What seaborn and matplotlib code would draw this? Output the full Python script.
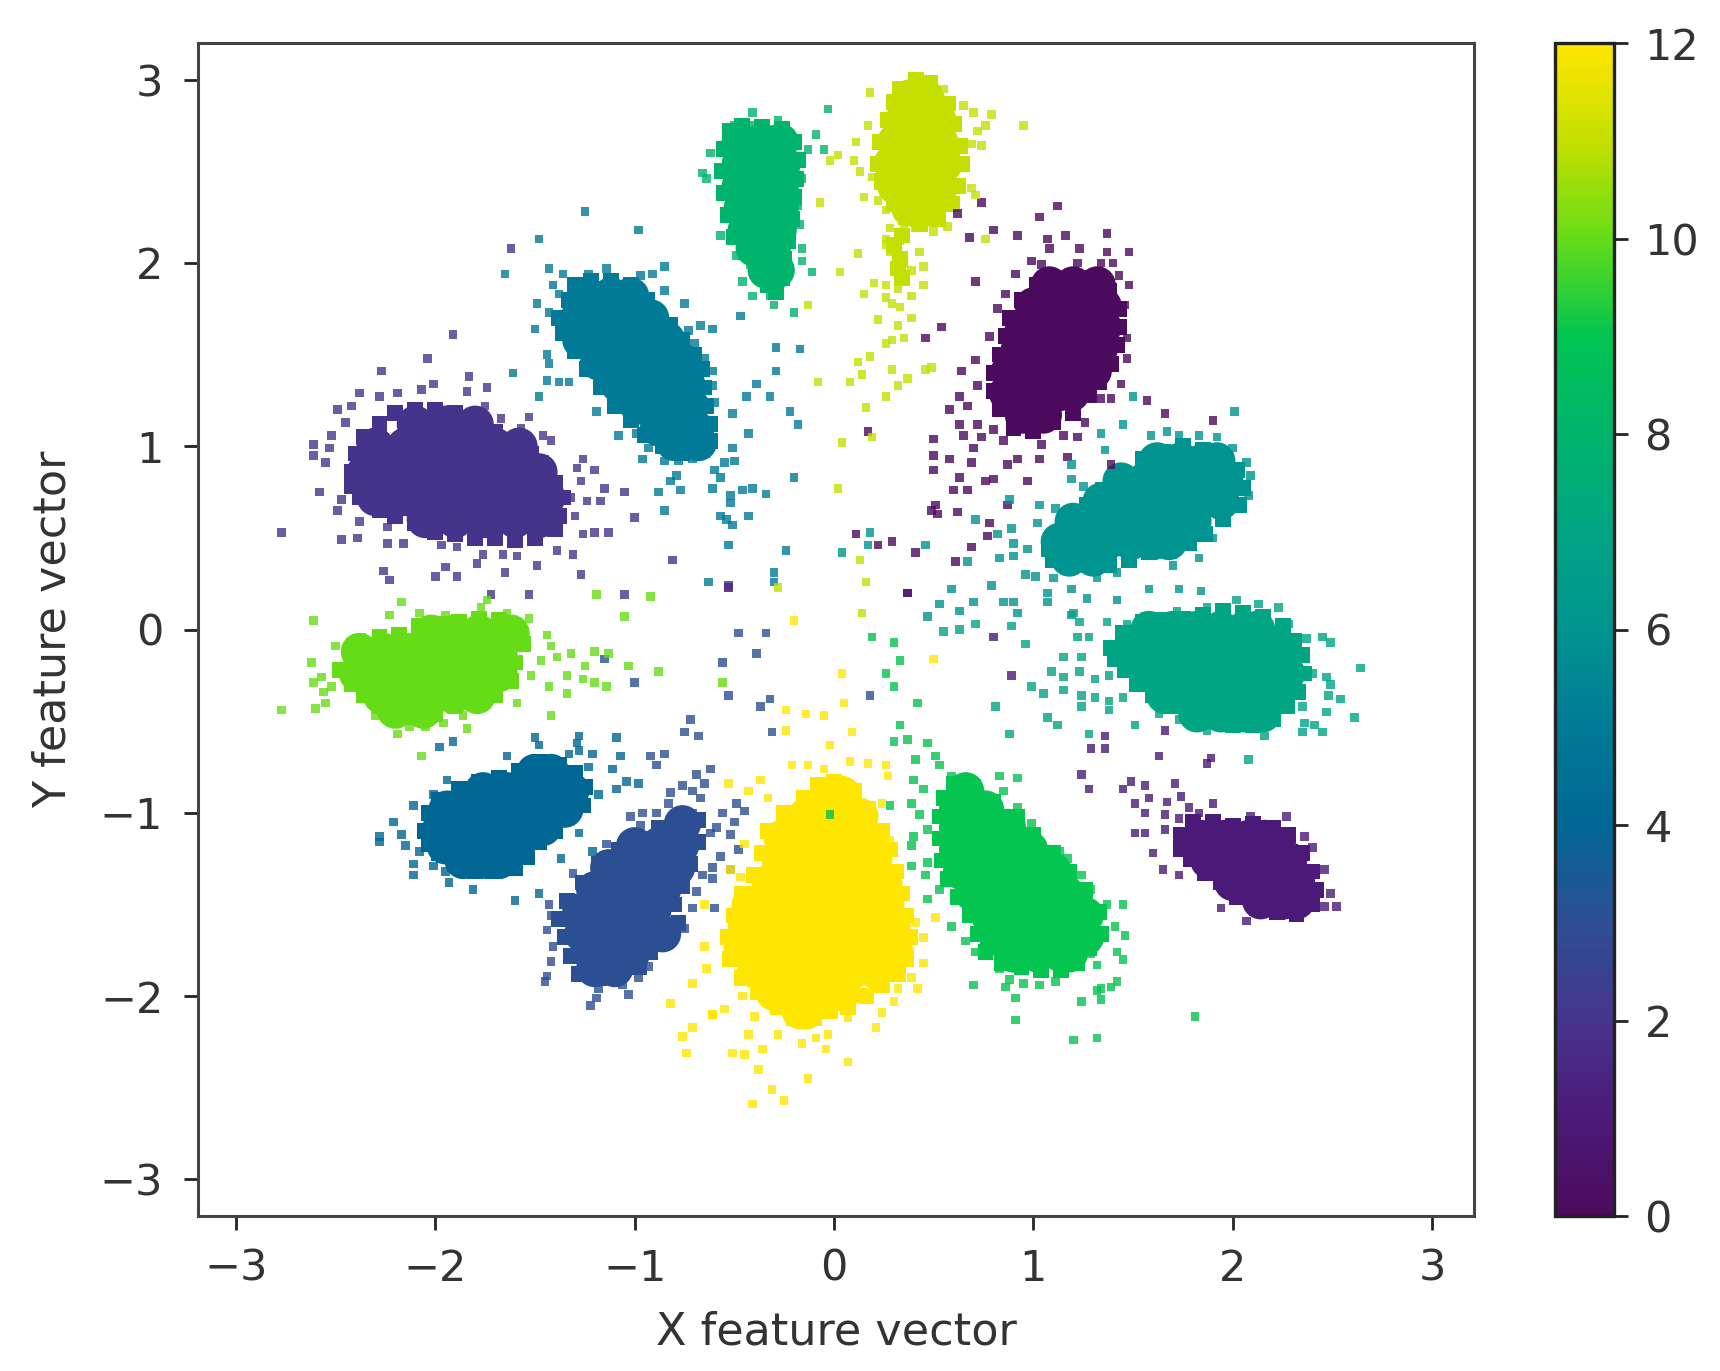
import numpy as np
import pandas as pd
import matplotlib
matplotlib.use("Agg")
import matplotlib.pyplot as plt
from matplotlib.colors import LinearSegmentedColormap, Normalize
import seaborn as sns

# Values. Dense cluster interiors are given as rows {y: [x, ...]},
# cluster rims and separately visible points around them as (x, y) pairs.
COLORS = ["#4c0a5e", "#4b1a78", "#46348c", "#2d4f93", "#006694", "#007a96", "#009490",
          "#00a584", "#00b46c", "#00c452", "#64dc18", "#c4e000", "#ffe600"]
XTICKS = [-3, -2, -1, 0, 1, 2, 3]
YTICKS = [-3, -2, -1, 0, 1, 2, 3]
CTICKS = [0, 2, 4, 6, 8, 10, 12]

CORE_0 = {1.88: [1.08, 1.2, 1.32], 1.765: [1.0, 1.12, 1.24, 1.35], 1.65: [.95, 1.07, 1.19, 1.31, 1.35],
          1.53: [.93, 1.05, 1.17, 1.29, 1.33], 1.41: [.88, 1.0, 1.12, 1.24, 1.30], 1.29: [.87, 1.0, 1.12, 1.19],
          1.17: [.95, 1.05]}
CORE_1 = {-1.14: [1.84, 1.96, 2.08, 2.16], -1.26: [1.88, 2.0, 2.12, 2.24, 2.28], -1.38: [2.0, 2.12, 2.24, 2.32],
          -1.48: [2.14, 2.26, 2.32]}
CORE_2 = {1.12: [-2.1, -1.95, -1.8], 1.0: [-2.3, -2.15, -2.0, -1.85, -1.7, -1.58],
          .86: [-2.35, -2.2, -2.05, -1.9, -1.75, -1.6, -1.48], .72: [-2.3, -2.15, -2.0, -1.85, -1.7, -1.55, -1.44],
          .6: [-2.05, -1.9, -1.75, -1.6, -1.48]}
CORE_3 = {-1.06: [-.76], -1.18: [-1.0, -.88, -.77], -1.30: [-1.13, -1.01, -.89, -.79],
          -1.42: [-1.2, -1.08, -.96, -.86], -1.54: [-1.27, -1.15, -1.03, -.91],
          -1.66: [-1.26, -1.14, -1.02, -.9, -.86], -1.78: [-1.2, -1.08, -1.02], -1.85: [-1.2, -1.1]}
CORE_4 = {-.78: [-1.5, -1.42], -.88: [-1.76, -1.64, -1.52, -1.4, -1.32],
          -.98: [-1.94, -1.82, -1.7, -1.58, -1.46, -1.35], -1.08: [-1.97, -1.85, -1.73, -1.61, -1.49, -1.46],
          -1.18: [-1.95, -1.83, -1.71, -1.61], -1.26: [-1.86, -1.74, -1.68]}
CORE_5 = {1.82: [-1.24, -1.12, -1.02], 1.70: [-1.28, -1.14, -1.0, -.92], 1.58: [-1.27, -1.12, -.98, -.84],
          1.46: [-1.18, -1.04, -.9, -.76], 1.34: [-1.08, -.94, -.8, -.74], 1.22: [-.98, -.84, -.72],
          1.10: [-.88, -.74, -.7], 1.02: [-.8, -.68]}
CORE_6 = {.92: [1.62, 1.74, 1.86, 1.92], .81: [1.44, 1.56, 1.68, 1.80, 1.92, 1.96],
          .70: [1.34, 1.46, 1.58, 1.70, 1.82, 1.94], .59: [1.2, 1.32, 1.44, 1.56, 1.68, 1.80],
          .48: [1.13, 1.25, 1.37, 1.49, 1.60, 1.68], .39: [1.18, 1.3]}
CORE_7 = {0.0: [1.58, 1.70, 1.82, 1.94, 2.06, 2.12], -.12: [1.48, 1.60, 1.72, 1.84, 1.96, 2.08, 2.2, 2.24],
          -.24: [1.57, 1.69, 1.81, 1.93, 2.05, 2.17, 2.27], -.36: [1.66, 1.78, 1.90, 2.02, 2.14, 2.22],
          -.46: [1.82, 1.94, 2.06, 2.15]}
CORE_8 = {2.66: [-.47, -.36, -.27], 2.54: [-.47, -.36, -.26], 2.42: [-.47, -.37, -.27], 2.30: [-.46, -.36, -.27],
          2.18: [-.44, -.34, -.28], 2.08: [-.40, -.31], 1.96: [-.34, -.29]}
CORE_9 = {-.88: [.66], -.98: [.62, .76], -1.08: [.62, .74, .87], -1.2: [.62, .74, .86, .98],
          -1.32: [.64, .76, .88, 1.0, 1.1], -1.44: [.70, .82, .94, 1.06, 1.16], -1.56: [.78, .9, 1.02, 1.14, 1.26],
          -1.68: [.82, .94, 1.06, 1.18, 1.26], -1.77: [.9, 1.02, 1.14, 1.18]}
CORE_10 = {-.02: [-2.02, -1.9, -1.78, -1.66, -1.62], -.12: [-2.38, -2.26, -2.14, -2.02, -1.9, -1.78, -1.68],
           -.24: [-2.39, -2.27, -2.15, -2.03, -1.91, -1.79, -1.68], -.36: [-2.27, -2.15, -2.03, -1.91, -1.79],
           -.44: [-2.2, -2.06]}
CORE_11 = {2.90: [.38, .46], 2.78: [.35, .45, .52], 2.66: [.31, .41, .53], 2.54: [.29, .39, .49, .55],
           2.42: [.31, .42, .53], 2.30: [.38, .47]}
CORE_12 = {-.9: [-.02, .04], -1.02: [-.14, -.02, .1, .13], -1.14: [-.26, -.14, -.02, .1, .17],
           -1.26: [-.27, -.15, -.03, .09, .2], -1.38: [-.32, -.2, -.08, .04, .16, .25],
           -1.5: [-.42, -.3, -.18, -.06, .06, .18, .26], -1.62: [-.44, -.32, -.2, -.08, .04, .16, .29],
           -1.74: [-.46, -.34, -.22, -.1, .02, .14, .26, .3], -1.86: [-.39, -.27, -.15, -.03, .09, .21],
           -1.98: [-.3, -.18, -.06, .04], -2.08: [-.17, -.14]}

RIM_0 = [(1.2,1.93),(1.3,1.92),(1.38,1.85),(1.43,1.75),(1.43,1.65),(1.42,1.55),(1.39,1.45),(1.33,1.35),(1.28,1.28),(1.2,1.18),
         (1.1,1.13),(1.0,1.08),(.9,1.1),(.83,1.2),(.8,1.3),(.8,1.4),(.83,1.5),(.86,1.6),(.88,1.7),(.94,1.8),(1.02,1.88),(1.1,1.92)]
RIM_1 = [(1.74,-1.12),(1.8,-1.05),(1.9,-1.05),(2.0,-1.07),(2.1,-1.06),(2.2,-1.08),(2.28,-1.12),(2.35,-1.22),(2.4,-1.32),
         (2.42,-1.42),(2.4,-1.5),(2.32,-1.55),(2.22,-1.54),(2.12,-1.52),(2.02,-1.46),(1.94,-1.38),(1.86,-1.33),(1.79,-1.25),(1.74,-1.2)]
RIM_2 = [(-2.42,.86),(-2.40,.96),(-2.36,1.05),(-2.28,1.12),(-2.2,1.18),(-2.1,1.2),(-2.0,1.2),(-1.9,1.18),(-1.8,1.13),(-1.7,1.08),
         (-1.6,1.02),(-1.52,.96),(-1.46,.88),(-1.4,.8),(-1.36,.72),(-1.38,.62),(-1.4,.55),(-1.5,.5),(-1.6,.49),(-1.7,.5),(-1.8,.5),
         (-1.9,.52),(-2.0,.53),(-2.1,.58),(-2.2,.62),(-2.28,.65),(-2.38,.72),(-2.42,.78)]
RIM_3 = [(-.68,-1.04),(-.78,-1.04),(-.88,-1.08),(-.98,-1.14),(-1.08,-1.2),(-1.18,-1.28),(-1.26,-1.38),(-1.34,-1.48),(-1.38,-1.58),
         (-1.35,-1.68),(-1.32,-1.78),(-1.28,-1.88),(-1.18,-1.9),(-1.08,-1.88),(-.98,-1.84),(-.92,-1.76),(-.86,-1.68),(-.78,-1.6),
         (-.8,-1.5),(-.76,-1.4),(-.72,-1.28),(-.68,-1.16)]
RIM_4 = [(-2.05,-1.1),(-2.03,-1.0),(-1.98,-.93),(-1.88,-.87),(-1.78,-.83),(-1.68,-.81),(-1.58,-.77),(-1.48,-.72),(-1.38,-.74),
         (-1.3,-.78),(-1.25,-.86),(-1.26,-.96),(-1.34,-1.02),(-1.4,-1.1),(-1.48,-1.16),(-1.54,-1.24),(-1.6,-1.3),(-1.7,-1.32),
         (-1.8,-1.32),(-1.9,-1.28),(-1.98,-1.22),(-2.03,-1.17)]
RIM_5 = [(-1.33,1.8),(-1.3,1.88),(-1.22,1.9),(-1.12,1.9),(-1.02,1.88),(-.94,1.8),(-.9,1.72),(-.82,1.66),(-.76,1.58),(-.7,1.5),
         (-.66,1.42),(-.65,1.32),(-.64,1.22),(-.62,1.12),(-.62,1.03),(-.66,.98),(-.76,.96),(-.86,1.0),(-.95,1.06),(-1.02,1.14),
         (-1.1,1.22),(-1.17,1.32),(-1.24,1.42),(-1.3,1.52),(-1.36,1.62),(-1.38,1.7)]
RIM_6 = [(1.08,.44),(1.12,.52),(1.2,.58),(1.27,.68),(1.35,.76),(1.45,.85),(1.55,.93),(1.65,.97),(1.75,1.0),(1.85,.98),(1.95,.94),
         (2.02,.87),(2.05,.77),(2.03,.68),(1.95,.6),(1.86,.52),(1.78,.47),(1.68,.43),(1.58,.42),(1.48,.38),(1.38,.35),(1.28,.35),
         (1.18,.34),(1.1,.38)]
RIM_7 = [(1.39,-.1),(1.45,-.02),(1.55,.04),(1.65,.05),(1.75,.06),(1.85,.08),(1.95,.1),(2.05,.09),(2.15,.07),(2.25,.02),(2.31,-.06),
         (2.35,-.14),(2.36,-.24),(2.33,-.34),(2.27,-.42),(2.2,-.49),(2.1,-.52),(2.0,-.52),(1.9,-.5),(1.8,-.47),(1.7,-.42),(1.6,-.36),
         (1.52,-.3),(1.46,-.22),(1.41,-.16)]
RIM_8 = [(-.55,2.62),(-.52,2.72),(-.46,2.75),(-.36,2.74),(-.26,2.73),(-.2,2.66),(-.18,2.56),(-.19,2.46),(-.2,2.36),(-.21,2.24),
         (-.23,2.12),(-.25,2.02),(-.26,1.92),(-.29,1.84),(-.33,1.88),(-.38,1.96),(-.44,2.06),(-.5,2.14),(-.53,2.26),(-.55,2.38),(-.56,2.5)]
RIM_9 = [(.6,-.84),(.55,-.92),(.53,-1.02),(.53,-1.14),(.54,-1.26),(.57,-1.36),(.62,-1.46),(.68,-1.56),(.72,-1.66),(.76,-1.76),
         (.84,-1.82),(.94,-1.84),(1.04,-1.86),(1.14,-1.86),(1.22,-1.82),(1.28,-1.74),(1.34,-1.66),(1.33,-1.54),(1.26,-1.42),(1.18,-1.32),
         (1.1,-1.22),(1.0,-1.12),(.92,-1.02),(.8,-.94),(.7,-.86)]
RIM_10 = [(-2.48,-.22),(-2.43,-.12),(-2.38,-.07),(-2.28,-.04),(-2.18,-.03),(-2.08,.02),(-1.98,.03),(-1.88,.04),(-1.78,.06),(-1.68,.05),
          (-1.6,.0),(-1.56,-.08),(-1.6,-.18),(-1.62,-.28),(-1.7,-.36),(-1.8,-.4),(-1.9,-.42),(-2.0,-.46),(-2.1,-.48),(-2.2,-.48),
          (-2.28,-.42),(-2.36,-.36),(-2.42,-.3)]
RIM_11 = [(.41,3.0),(.48,2.98),(.33,2.95),(.57,2.87),(.6,2.76),(.63,2.64),(.64,2.54),(.62,2.42),(.59,2.32),(.52,2.24),(.43,2.21),
          (.36,2.25),(.3,2.32),(.24,2.44),(.22,2.54),(.23,2.66),(.27,2.78),(.3,2.88),(.34,2.15),(.30,2.1),(.33,2.02),(.32,1.97),(.34,1.92)]
RIM_12 = [(.0,-.83),(.1,-.88),(.17,-.98),(.24,-1.1),(.28,-1.2),(.31,-1.32),(.34,-1.44),(.36,-1.56),(.38,-1.68),(.36,-1.8),(.32,-1.88),
          (.24,-1.94),(.16,-2.0),(.07,-2.06),(-.02,-2.08),(-.1,-2.12),(-.2,-2.12),(-.28,-2.06),(-.38,-1.98),(-.46,-1.9),(-.52,-1.8),
          (-.53,-1.68),(-.5,-1.56),(-.46,-1.44),(-.4,-1.34),(-.36,-1.22),(-.33,-1.1),(-.25,-1.0),(-.15,-.92),(-.08,-.85)]

FRINGE_0 = [(.74,2.33),(1.12,2.31),(1.03,2.25),(.62,2.27),(.80,2.18),(.92,2.15),(.68,2.14),(1.07,2.13),(1.16,2.15),
            (1.37,2.16),(1.08,2.08),(1.23,2.08),(1.37,2.06),(1.48,2.06),(.71,1.90),(.99,2.01),(.91,1.94),(1.04,1.99),
            (1.22,2.0),(1.34,2.0),(1.40,2.0),(1.29,1.94),(1.43,1.93),(1.48,1.88),(1.46,1.77),(.86,1.83),(.82,1.75),
            (.78,1.6),(.54,1.65),(.46,1.59),(1.47,1.59),(1.47,1.48),(1.44,1.34),(.71,1.47),(.64,1.41),(.72,1.33),
            (.63,1.27),(.67,1.22),(.58,1.2),(.63,1.12),(.72,1.12),(.65,1.06),(.74,1.05),(.80,1.09),(.85,1.03),
            (.70,.99),(.50,1.04),(.50,.95),(.58,.93),(.50,.87),(.69,.91),(.63,.83),(.60,.76),(.67,.76),(.76,.81),
            (.80,.82),(.87,.90),(.92,.93),(.97,.81),(1.03,.93),(1.04,1.01),(1.17,.94),(1.22,1.05),(1.15,1.06),
            (1.26,1.13),(1.21,1.18),(1.34,1.26),(1.57,1.25),(1.39,1.26),(.87,.68),(.51,.68),(.52,.63),(.49,.65),
            (.62,.64),(.78,.58),(.77,.51),(.11,.52),(.22,.46),(.29,.48),(.41,.42),(.69,.45),(.61,.37),(.37,.20),
            (-.53,.23),(.17,1.08),(1.39,.90),(1.90,1.14),(1.66,1.18)]
FRINGE_1 = [(1.49,-.83),(1.56,-.85),(1.45,-.87),(1.71,-.84),(1.74,-.91),(1.58,-.92),(1.67,-.94),(1.51,-.95),(1.56,-1.0),
            (1.66,-1.01),(1.78,-.97),(1.90,-.95),(1.83,-1.0),(1.73,-1.03),(1.51,-1.11),(1.56,-1.11),(1.66,-1.09),
            (1.60,-1.22),(1.65,-1.31),(1.73,-1.34),(2.09,-1.02),(2.27,-1.02),(2.36,-1.13),(2.40,-1.19),(2.46,-1.31),
            (1.94,-1.52),(2.07,-1.59),(2.49,-1.44),(2.52,-1.51),(2.46,-1.51),(2.33,-1.57),(2.24,-1.56),(2.15,-1.52),
            (1.28,-.87),(1.24,-.79),(1.63,-.69),(1.87,-.73),(1.89,-.70),(1.29,-.65),(1.36,-.65),(1.36,-.58),(1.66,-.55),
            (.80,-.04),(.89,-.25),(.37,.20)]
FRINGE_2 = [(-2.77,.53),(-2.61,1.01),(-2.61,.95),(-2.55,.91),(-2.52,1.06),(-2.49,1.20),(-2.42,1.22),(-2.38,1.29),
            (-2.27,1.41),(-2.04,1.48),(-1.91,1.61),(-1.83,1.38),(-1.74,1.32),(-1.84,1.30),(-2.01,1.34),(-2.28,1.27),
            (-2.19,1.29),(-2.07,1.31),(-2.45,1.13),(-2.53,.99),(-2.58,.75),(-2.47,.71),(-2.49,.65),(-2.38,.59),
            (-2.47,.49),(-2.39,.50),(-2.24,.56),(-2.24,.47),(-2.16,.47),(-2.26,.32),(-2.23,.27),(-2.0,.29),(-1.95,.34),
            (-1.89,.29),(-1.79,.36),(-1.97,.46),(-1.89,.45),(-1.76,.41),(-1.66,.41),(-1.59,.40),(-1.49,.35),(-1.65,.31),
            (-1.27,.30),(-1.31,.41),(-1.39,.43),(-1.13,.53),(-1.2,.53),(-1.26,.52),(-1.3,.62),(-1.24,.70),(-1.17,.70),
            (-1.32,.72),(-1.15,.77),(-1.27,.81),(-1.20,.87),(-1.29,.88),(-1.26,.93),(-1.45,.93),(-1.42,1.03),(-1.46,1.06),
            (-1.53,1.16),(-1.57,1.10),(-1.67,1.15),(-1.75,1.22),(-1.0,.61),(-1.05,.75),(-.81,.38),(-.53,.24),(-1.72,.19),
            (-1.53,.19),(-1.05,.19),(-1.62,2.08)]
FRINGE_3 = [(-.48,-.02),(-.34,-.02),(-.39,-.13),(-.56,-.18),(-.53,-.36),(-.37,-.42),(-.32,-.38),(-.31,-.56),(-.72,-.49),
            (-.75,-.56),(-.68,-.58),(-.85,-.68),(-.92,-.69),(-.89,-.74),(-.62,-.76),(-.69,-.79),(-.65,-.84),(-.76,-.85),
            (-.82,-.89),(-.71,-.88),(-.67,-.92),(-.83,-.95),(-.89,-1.0),(-.96,-1.0),(-1.02,-1.02),(-.97,-1.07),(-.77,-.99),
            (-.71,-1.0),(-.49,-.95),(-.45,-.99),(-.56,-1.0),(-.50,-1.05),(-.59,-1.08),(-.52,-1.12),(-.62,-1.11),(-.48,-1.20),
            (-.57,-1.24),(-.52,-1.31),(-.61,-1.30),(-.66,-1.34),(-.61,-1.36),(-.69,-1.43),(-.71,-1.52),(-.60,-1.52),
            (-.75,-1.63),(-.93,-1.84),(-.98,-1.90),(-1.06,-1.94),(-1.03,-1.99),(-1.18,-1.96),(-1.19,-2.01),(-1.22,-2.05),
            (-1.45,-1.92),(-1.44,-1.89),(-1.42,-1.81),(-1.41,-1.73),(-1.44,-1.64),(-1.43,-1.50),(-1.42,-1.56),(-1.31,-1.33),
            (-1.14,-1.17),(-1.0,-.29),(-1.15,-.16),(.18,-.36)]
FRINGE_4 = [(-1.98,-.64),(-1.91,-.61),(-1.64,-.69),(-1.50,-.59),(-1.48,-.63),(-1.28,-.58),(-1.29,-.62),(-1.28,-.66),
            (-1.33,-.68),(-1.21,-.68),(-1.09,-.59),(-1.07,-.69),(-1.23,-.75),(-1.11,-.76),(-1.18,-.90),(-1.09,-.87),
            (-1.04,-.83),(-.98,-.84),(-1.28,-1.11),(-1.37,-1.25),(-1.53,-1.22),(-1.21,-1.21),(-2.21,-1.05),(-2.28,-1.13),
            (-2.28,-1.16),(-2.17,-1.12),(-2.15,-1.18),(-2.11,-.96),(-1.94,-.82),(-2.01,-.90),(-2.08,-1.21),(-2.11,-1.28),
            (-2.11,-1.34),(-2.01,-1.29),(-1.93,-1.38),(-1.81,-1.42),(-1.60,-1.48),(-1.48,-1.44),(-1.64,-1.32),(-1.95,-1.32)]
FRINGE_5 = [(-1.25,2.28),(-.98,2.18),(-1.48,2.13),(-1.65,1.94),(-1.43,1.97),(-1.41,1.88),(-1.38,1.83),(-1.36,1.94),
            (-1.23,1.94),(-1.14,1.97),(-1.28,1.90),(-.97,1.93),(-.91,1.94),(-.85,1.98),(-.85,1.85),(-.75,1.78),(-1.49,1.78),
            (-1.43,1.73),(-1.50,1.64),(-1.44,1.50),(-1.43,1.45),(-1.44,1.36),(-1.38,1.35),(-1.33,1.35),(-1.61,1.40),
            (-1.48,1.27),(-1.19,1.19),(-1.08,1.06),(-.99,1.07),(-.93,.99),(-.96,.93),(-.85,.92),(-.78,.92),(-.71,.93),
            (-.67,1.66),(-.61,1.64),(-.73,1.63),(-.70,1.56),(-.65,1.48),(-.61,1.41),(-.61,1.33),(-.60,1.24),(-.51,1.18),
            (-.43,1.07),(-.51,.99),(-.55,.91),(-.50,.92),(-.60,.87),(-.57,.83),(-.61,.77),(-.52,.73),(-.46,.76),(-.41,.77),
            (-.34,.74),(-.52,.69),(-.57,.62),(-.54,.60),(-.51,.57),(-.43,.62),(-.79,.84),(-.82,.81),(-.77,.76),(-.88,.75),
            (-.85,.65),(-.63,.26),(-.53,.46),(-.24,.43),(-.30,.31),(-.30,.26),(-.20,.83),(-.22,1.19),(-.18,1.12),(-.32,1.27),
            (-.44,1.27),(-.39,1.34),(-.29,1.41),(-.29,1.54),(-.17,1.53),(-.47,1.71)]
FRINGE_6 = [(2.01,1.19),(1.83,1.06),(1.92,1.05),(1.73,1.06),(1.67,1.08),(1.59,1.06),(2.0,.99),(2.07,.91),(2.09,.84),
            (2.08,.73),(2.03,.67),(1.90,.50),(1.83,.39),(1.70,.35),(1.50,.37),(1.42,.31),(1.32,.28),(1.24,.37),(1.15,.33),
            (1.10,.28),(1.01,.29),(.96,.30),(1.50,1.27),(1.45,1.12),(1.34,1.07),(1.36,.98),(1.19,.90),(1.19,.82),(1.25,.78),
            (.88,.71),(1.03,.68),(1.11,.66),(.71,.60),(.89,.55),(1.02,.58),(.82,.52),(.90,.47),(.97,.44),(.83,.39),(.90,.40),
            (.67,.37),(.46,.46),(.18,.53),(.17,.46),(.04,.42),(.79,.24),(.59,.22),(1.19,.22),(1.58,.22),(1.73,.22),(1.84,.21),
            (1.42,.16),(1.27,.17),(1.07,.20),(1.07,.15),(.53,.14),(.70,.15),(.85,.15),(.90,.15),(.63,.10),(.47,.07),(.92,.09),
            (1.19,.08)]
FRINGE_7 = [(2.02,.16),(2.13,.14),(2.23,.12),(1.87,.12),(1.72,.10),(1.56,.07),(1.47,.03),(1.37,.04),(2.28,.03),(2.37,-.05),
            (2.45,-.04),(2.49,-.07),(2.36,-.12),(2.64,-.21),(2.40,-.24),(2.47,-.26),(2.49,-.3),(2.48,-.36),(2.54,-.38),
            (2.35,-.42),(2.47,-.45),(2.61,-.48),(2.36,-.51),(2.41,-.52),(2.35,-.56),(2.45,-.56),(2.16,-.58),(2.08,-.71),
            (1.87,-.55),(1.73,-.49),(1.63,-.46),(1.51,-.52),(1.28,-.04),(1.22,-.04),(1.24,-.15),(1.15,-.15),(1.09,-.23),
            (1.15,-.26),(1.23,-.23),(1.31,-.27),(1.38,-.25),(.99,-.31),(1.05,-.35),(1.15,-.33),(1.24,-.36),(1.31,-.37),
            (1.38,-.39),(1.45,-.37),(1.24,-.42),(1.38,-.44),(1.07,-.48),(1.12,-.52),(1.28,-.57),(.88,-.57),(.81,-.42),
            (.96,-.08),(1.20,.09),(1.23,.04),(.89,.02),(.55,-.01),(.63,0),(.71,.03)]
FRINGE_8 = [(-.41,2.82),(-.03,2.84),(-.09,2.70),(-.05,2.62),(-.13,2.62),(-.28,2.78),(-.50,2.75),(-.41,2.75),(-.62,2.60),
            (-.66,2.49),(-.64,2.46),(-.16,2.46),(-.18,2.31),(-.17,2.21),(-.57,2.15),(-.16,2.08),(-.16,2.01),(-.11,1.95),
            (-.22,1.95),(-.46,1.90),(-.41,1.82),(-.20,1.73),(-.49,2.04),(-.42,1.99),(-.34,1.90),(-.29,1.88),(-.32,1.82),
            (-.30,1.77),(-.27,1.94),(-.30,1.86),(-.33,1.86)]
FRINGE_9 = [(.33,-.52),(.30,-.61),(.37,-.60),(.47,-.62),(.51,-.69),(.41,-.71),(.53,-.74),(.59,-.80),(.40,-.82),(.45,-.87),
            (.39,-.95),(.43,-1.01),(.47,-1.09),(.40,-1.13),(.39,-1.18),(.39,-1.29),(.47,-1.27),(.46,-1.34),(.53,-1.42),
            (.47,-1.47),(.83,-.80),(.92,-.81),(.85,-.88),(.92,-.97),(.99,-1.06),(1.13,-1.21),(1.17,-1.25),(1.24,-1.34),
            (1.29,-1.42),(1.37,-1.50),(1.45,-1.50),(1.41,-1.62),(1.46,-1.67),(1.42,-1.76),(1.45,-1.80),(1.29,-1.77),
            (1.32,-1.83),(1.42,-1.92),(1.39,-1.95),(1.34,-1.96),(1.32,-1.97),(1.34,-2.02),(1.24,-2.03),(.59,-1.62),
            (.66,-1.70),(.71,-1.76),(.83,-1.85),(.88,-1.91),(.70,-1.94),(.86,-1.95),(.95,-1.93),(1.03,-1.94),(1.11,-1.92),
            (.91,-2.01),(.91,-2.13),(1.20,-2.24),(1.32,-2.23),(1.81,-2.11),(.42,-.40),(.30,-.07),(.19,-.04),(.33,-.17),
            (.26,-.24),(.30,-.31),(.28,-.96),(-.02,-1.01)]
FRINGE_10 = [(-2.61,.05),(-2.17,.15),(-2.23,.08),(-2.62,-.18),(-2.61,-.29),(-2.56,-.34),(-2.60,-.43),(-2.77,-.44),(-2.5,-.09),
             (-2.37,-.04),(-1.77,.12),(-1.74,.16),(-1.64,.09),(-1.53,.06),(-1.95,.08),(-2.08,.09),(-1.44,-.03),(-1.42,-.09),
             (-1.39,-.15),(-1.47,-.17),(-1.52,-.25),(-1.43,-.31),(-1.32,-.13),(-1.20,-.12),(-1.13,-.13),(-1.25,-.2),(-1.34,-.25),
             (-1.26,-.27),(-1.20,-.29),(-1.14,-.31),(-1.03,-.2),(-.88,-.23),(-1.34,-.35),(-1.42,-.47),(-1.59,-.4),(-1.86,-.47),
             (-1.84,-.54),(-2.05,-.53),(-2.13,-.53),(-2.19,-.57),(-2.07,-.69),(-2.3,-.47),(-1.96,-.51),(-1.19,.19),(-.92,.18),
             (-1.05,.07),(-.56,-.29),(-2.57,-.26),(-2.52,-.31),(-2.55,-.40)]
FRINGE_11 = [(.28,2.19),(.35,2.21),(.41,2.19),(.26,2.13),(.33,2.12),(.28,2.06),(.35,2.04),(.30,1.98),(.34,1.92),(.26,2.10),
             (.32,2.16),(.50,2.17),(.57,2.20),(.18,2.93),(.55,2.95),(.79,2.81),(.95,2.75),(.76,2.75),(.70,2.82),(.65,2.86),
             (.69,2.65),(.74,2.64),(.72,2.72),(.17,2.75),(.11,2.66),(.02,2.59),(-.02,2.56),(.10,2.56),(.13,2.50),(.19,2.47),
             (.15,2.36),(.22,2.34),(.28,2.37),(.26,2.29),(.63,2.42),(.69,2.41),(.71,2.37),(-.07,2.33),(.12,2.05),(.03,1.95),
             (.43,2.06),(.45,1.98),(.39,1.96),(.20,1.89),(.15,1.83),(.26,1.88),(.32,1.86),(.39,1.82),(.45,1.88),(.26,1.81),
             (.29,1.78),(.33,1.76),(-.13,1.77),(.22,1.69),(.32,1.66),(.39,1.70),(.26,1.56),(.29,1.58),(.35,1.59),(.12,1.46),
             (.18,1.49),(.14,1.39),(.08,1.35),(-.08,1.35),(.29,1.42),(.46,1.42),(.49,1.43),(.37,1.37),(.32,1.33),(.26,1.27),
             (.16,1.21),(.19,1.05),(.04,1.02),(.02,.77),(.13,.38),(.16,.26),(-.28,.23),(.14,.09),(.76,2.13)]
FRINGE_12 = [(-.02,-.63),(.08,-.72),(-.21,-.74),(-.13,-.74),(.17,-.73),(.26,-.74),(.27,-.80),(-.05,-.76),(-.37,-.82),(-.43,-.88),
             (-.53,-.84),(-.33,-.92),(-.24,-.44),(-.14,-.46),(-.05,-.47),(.05,-.40),(.04,-.24),(.50,-.16),(-.24,-.55),(.09,-.56),
             (-.20,.05),(.24,-.95),(.28,-1.15),(.30,-1.32),(.51,-1.57),(.41,-1.60),(.45,-1.68),(.38,-1.76),(.45,-1.82),(.39,-1.90),
             (.42,-1.96),(.32,-1.96),(.30,-2.03),(.24,-2.09),(.21,-2.17),(.07,-2.12),(-.03,-2.21),(-.09,-2.23),(-.16,-2.26),
             (-.04,-2.29),(.07,-2.36),(-.28,-2.21),(-.36,-2.29),(-.43,-2.21),(-.51,-2.31),(-.45,-2.32),(-.38,-2.40),(-.13,-2.45),
             (-.31,-2.51),(-.25,-2.57),(-.41,-2.59),(-.61,-2.10),(-.55,-2.07),(-.40,-2.11),(-.65,-1.73),(-.64,-1.85),(-.46,-2.0),
             (-.65,-1.50),(-.47,-1.35),(-.45,-1.17),(-.52,-1.31),(-.15,-2.13),(-.71,-1.93),(-.82,-2.04),(-.61,-2.10),(-.71,-2.17),
             (-.76,-2.22),(-.74,-2.31)]

CORES = [CORE_0, CORE_1, CORE_2, CORE_3, CORE_4, CORE_5, CORE_6, CORE_7, CORE_8, CORE_9, CORE_10, CORE_11, CORE_12]
RIMS = [RIM_0, RIM_1, RIM_2, RIM_3, RIM_4, RIM_5, RIM_6, RIM_7, RIM_8, RIM_9, RIM_10, RIM_11, RIM_12]
FRINGES = [FRINGE_0, FRINGE_1, FRINGE_2, FRINGE_3, FRINGE_4, FRINGE_5, FRINGE_6, FRINGE_7, FRINGE_8, FRINGE_9,
           FRINGE_10, FRINGE_11, FRINGE_12]

core_df = pd.DataFrame([(x, y, k) for k, rows in enumerate(CORES) for y, xs in rows.items() for x in xs],
                       columns=["x", "y", "label"])
rim_df = pd.DataFrame([(x, y, k) for k, pts in enumerate(RIMS) for x, y in pts], columns=["x", "y", "label"])
fringe_df = pd.DataFrame([(x, y, k) for k, pts in enumerate(FRINGES) for x, y in pts],
                         columns=["x", "y", "label"])

sns.set_theme(style="white")
plt.rcParams["font.family"] = ["DejaVu Sans"]
cmap = LinearSegmentedColormap.from_list("clusters", COLORS, N=256)
norm = Normalize(0, 12)
TEXT = "#333333"

fig = plt.figure(figsize=(17.2, 13.71), dpi=100)
ax = fig.add_axes([198 / 1720, 1 - 1216 / 1371, (1474 - 198) / 1720, (1216 - 43) / 1371])
sns.scatterplot(data=core_df, x="x", y="y", hue="label", palette=cmap, hue_norm=norm, s=720, linewidth=0,
                legend=False, ax=ax)
sns.scatterplot(data=rim_df, x="x", y="y", hue="label", palette=cmap, hue_norm=norm, s=130, linewidth=0,
                marker="s", legend=False, ax=ax)
sns.scatterplot(data=fringe_df, x="x", y="y", hue="label", palette=cmap, hue_norm=norm, s=38, linewidth=0,
                alpha=0.8, marker="s", legend=False, ax=ax)
ax.set_xlim(-3.19, 3.21)
ax.set_ylim(-3.2, 3.2)
ax.set_xticks(XTICKS)
ax.set_yticks(YTICKS)
ax.tick_params(axis="x", length=10, width=2, color="#222222", labelsize=31, labelcolor=TEXT, pad=13, bottom=True)
ax.tick_params(axis="y", length=10, width=2, color="#222222", labelsize=31, labelcolor=TEXT, pad=15, left=True)
ax.set_xlabel("X feature vector", fontsize=32, color=TEXT, labelpad=15)
ax.set_ylabel("Y feature vector", fontsize=32, color=TEXT, labelpad=18)
for side, sp in ax.spines.items():
    sp.set_visible(True)
    sp.set_linewidth(2.2)
    sp.set_edgecolor("#444444")

cax = fig.add_axes([1555 / 1720, 1 - 1216 / 1371, (1614 - 1555) / 1720, (1216 - 43) / 1371])
cb = fig.colorbar(plt.cm.ScalarMappable(norm=norm, cmap=cmap), cax=cax, ticks=CTICKS)
cb.ax.tick_params(length=10, width=2, color="#222222", labelsize=31, labelcolor=TEXT, pad=12)
cb.outline.set_linewidth(2.4)
cb.outline.set_edgecolor("#222222")

fig.savefig("out.png", dpi=100)
